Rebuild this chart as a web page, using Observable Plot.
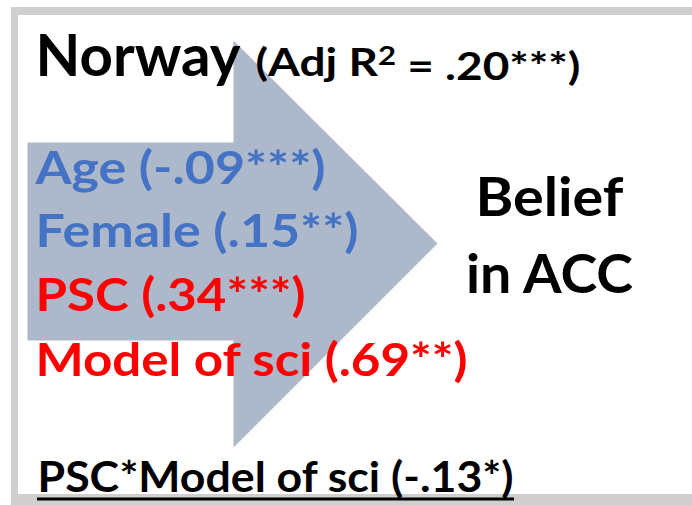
<!DOCTYPE html>
<html>
<head>
<meta charset="utf-8">
<script src="https://cdn.jsdelivr.net/npm/d3@7"></script>
<script src="https://cdn.jsdelivr.net/npm/@observablehq/plot@0.6"></script>
<style>
  html, body { margin: 0; padding: 0; background: #fff; }
  #chart svg { display: block; font-family: Lato, "Open Sans", sans-serif; }
</style>
</head>
<body>
<div id="chart"></div>
<script>
// ---- data ----
const country = "Norway";
const adjR2 = ".20***";
const predictors = ["Age", "Female", "PSC", "Model of sci"];
const coefficients = ["-.09***", ".15**", ".34***", ".69**"];
const predictorGroup = ["control", "control", "focal", "focal"];
const outcomeLines = ["Belief", "in ACC"];
const interactionTerm = "PSC*Model of sci";
const interactionCoef = "-.13*";

// ---- layout (diagram geometry, in pixel-space scale units) ----
const W = 692, H = 505;
const groupColor = {control: "#4472c4", focal: "#ff0000"};
const arrowShape = [[27,142],[233,142],[233,40],[437,243],[233,447],[233,340],[27,340],[27,142]]
  .map(([x, y]) => ({x, y}));
const frame = [
  {x1: 11, x2: W, y1: 7, y2: 15},
  {x1: 11, x2: 18, y1: 7, y2: H},
  {x1: 11, x2: W, y1: 494, y2: H}
];

const mid = (baseline, size) => baseline - 0.32 * size; // middle-anchored text → baseline

const titleText = country;
const r2Text = `(Adj R² = ${adjR2})`;
const interactionText = `${interactionTerm} (${interactionCoef})`;
const predRows = predictors.map((p, i) => ({
  text: `${p} (${coefficients[i]})`,
  color: groupColor[predictorGroup[i]],
  y: mid([183, 246, 310, 375][i], 46)
}));
const outcomeRows = outcomeLines.map((t, i) => ({text: t, y: mid([215, 292][i], 54)}));

// rendered widths of each label in the original slide (Calibri-like metrics)
const targetWidth = new Map([
  [titleText, 205], [r2Text, 325],
  [predRows[0].text, 290], [predRows[1].text, 323], [predRows[2].text, 270], [predRows[3].text, 432],
  [outcomeRows[0].text, 148], [outcomeRows[1].text, 167],
  [interactionText, 476]
]);

const chart = Plot.plot({
  width: W, height: H,
  margin: 0,
  x: {domain: [0, W], range: [0, W], axis: null},
  y: {domain: [0, H], range: [0, H], axis: null},
  style: {background: "#fff"},
  marks: [
    Plot.rect(frame, {x1: "x1", x2: "x2", y1: "y1", y2: "y2", fill: "#d0cece"}),
    Plot.line(arrowShape, {x: "x", y: "y", fill: "#adb9ca", stroke: null}),
    Plot.text([titleText], {x: 35, y: mid(75, 58), text: d => d, fontSize: 58, fontWeight: "bold", textAnchor: "start", fill: "#000"}),
    Plot.text([r2Text], {x: 255, y: mid(75, 39), text: d => d, fontSize: 39, fontWeight: "bold", textAnchor: "start", fill: "#000"}),
    Plot.text(predRows, {x: 35, y: "y", text: "text", fill: "color", fontSize: 46, fontWeight: "bold", textAnchor: "start"}),
    Plot.text(outcomeRows, {x: 549, y: "y", text: "text", fontSize: 54, fontWeight: "bold", textAnchor: "middle", fill: "#000"}),
    Plot.text([interactionText], {x: 37, y: mid(491, 42), text: d => d, fontSize: 42, fontWeight: "bold", textAnchor: "start", fill: "#000"}),
    Plot.ruleY([498.5], {x1: 37, x2: 514, stroke: "#000", strokeWidth: 3})
  ]
});
d3.select(chart).selectAll("text").each(function () {
  const content = this.textContent;
  const w = targetWidth.get(content);
  if (w) {
    this.setAttribute("textLength", w);
    this.setAttribute("lengthAdjust", "spacingAndGlyphs");
  }
  if (content === r2Text) {
    const [before, after] = content.split("²");
    const t = d3.select(this).text(null);
    t.append("tspan").text(before);
    t.append("tspan").attr("dy", "-0.38em").attr("font-size", "0.68em").text("2");
    t.append("tspan").attr("dy", "0.38em").text(after);
  }
});
document.getElementById("chart").appendChild(chart);
</script>
</body>
</html>
